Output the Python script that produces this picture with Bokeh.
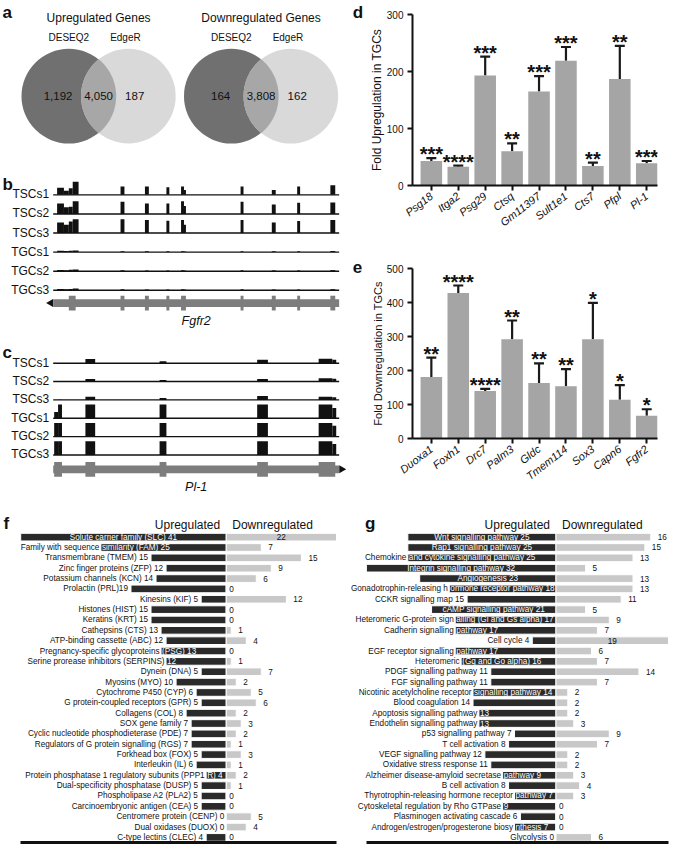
import numpy as np
from bokeh.plotting import figure
from bokeh.layouts import row, column
from bokeh.models import Range1d, FixedTicker, Whisker, TeeHead, ColumnDataSource
from bokeh.core.properties import value
from bokeh.embed import file_html
from bokeh.resources import INLINE

FONT = "Liberation Sans"

# ---------------------------------------------------------------- data
venn_titles = ["Upregulated Genes", "Downregulated Genes"]
venn_set_names = ["DESEQ2", "EdgeR"]
venn_up_counts = [1192, 4050, 187]      # DESEQ2 only, both, EdgeR only
venn_down_counts = [164, 3808, 162]

track_samples = ["TSCs1", "TSCs2", "TSCs3", "TGCs1", "TGCs2", "TGCs3"]

fgfr2_span = [0, 293]
fgfr2_exon_start = [16, 69, 94, 116, 131, 192, 224, 250, 284]
fgfr2_exon_end = [23, 73, 98, 119, 136, 195, 228, 253, 289]
fgfr2_cov_start = [4, 11, 16, 20, 69, 94, 116, 131, 134, 192, 224, 250, 284]
fgfr2_cov_end = [11, 16, 20, 26, 73, 98, 119, 134, 136, 195, 228, 253, 289]
fgfr2_cov = [
    [0.52, 0.29, 0.48, 0.95, 0.60, 0.60, 0.55, 0.60, 0.35, 0.60, 0.35, 0.60, 0.70],
    [0.76, 0.48, 0.52, 0.93, 0.88, 0.76, 0.76, 0.93, 0.57, 0.88, 0.69, 0.81, 0.83],
    [0.76, 0.60, 0.83, 1.00, 1.00, 0.95, 0.90, 0.95, 0.60, 0.95, 0.76, 0.88, 0.95],
    [0.10, 0.08, 0.10, 0.12, 0.07, 0.06, 0.06, 0.07, 0.05, 0.07, 0.06, 0.06, 0.08],
    [0.09, 0.07, 0.10, 0.12, 0.07, 0.06, 0.06, 0.07, 0.05, 0.07, 0.06, 0.06, 0.08],
    [0.10, 0.08, 0.10, 0.13, 0.07, 0.06, 0.06, 0.07, 0.05, 0.07, 0.06, 0.06, 0.08],
]

pl1_span = [0, 293]
pl1_exon_start = [1, 33, 109, 209, 272]
pl1_exon_end = [9, 43, 116, 220, 289]
pl1_cov_start = [1, 5, 33, 109, 209, 272, 286]
pl1_cov_end = [5, 9, 43, 116, 220, 286, 290]
pl1_cov = [
    [0.00, 0.02, 0.30, 0.14, 0.26, 0.33, 0.25],
    [0.00, 0.02, 0.19, 0.12, 0.19, 0.24, 0.20],
    [0.00, 0.02, 0.24, 0.14, 0.29, 0.24, 0.20],
    [0.45, 1.00, 1.00, 1.00, 1.00, 1.00, 0.75],
    [1.00, 1.00, 1.00, 1.00, 1.00, 1.00, 0.80],
    [1.00, 1.00, 1.00, 1.00, 1.00, 1.00, 0.80],
]

up_genes = ["Psg18", "Itga2", "Psg29", "Ctsq", "Gm11397", "Sult1e1", "Cts7", "Pfpl", "Pl-1"]
up_fold = [43, 33, 193, 60, 165, 219, 34, 187, 39]
up_err_hi = [48, 35, 226, 74, 192, 243, 40, 245, 43]
up_sig = ["***", "****", "***", "**", "***", "***", "**", "**", "***"]

down_genes = ["Duoxa1", "Foxh1", "Drc7", "Palm3", "Gldc", "Tmem114", "Sox3", "Capn6", "Fgfr2"]
down_fold = [181, 428, 140, 292, 163, 154, 292, 114, 67]
down_err_hi = [238, 450, 146, 347, 221, 204, 399, 157, 86]
down_sig = ["**", "****", "****", "**", "**", "**", "*", "*", "*"]

f_names = ["Solute carrier family (SLC) ", "Family with sequence similarity (FAM) ",
           "Transmembrane (TMEM) ", "Zinc finger proteins (ZFP) ", "Potassium channels (KCN) ",
           "Prolactin (PRL)", "Kinesins (KIF) ", "Histones (HIST) ", "Keratins (KRT) ",
           "Cathepsins (CTS) ", "ATP-binding cassette (ABC) ",
           "Pregnancy-specific glycoproteins (PSG) ", "Serine prorease inhibitors (SERPINS) ",
           "Dynein (DNA) ", "Myosins (MYO) ", "Cytochrome P450 (CYP) ",
           "G protein-coupled receptors (GPR) ", "Collagens (COL) ", "SOX gene family ",
           "Cyclic nucleotide phosphodieterase (PDE) ", "Regulators of G protein signalling (RGS) ",
           "Forkhead box (FOX) ", "Interleukin (IL) ",
           "Protein phosphatase 1 regulatory subunits (PPP1R) ",
           "Dual-specificity phosphatase (DUSP) ", "Phospholipase A2 (PLA2) ",
           "Carcinoembryonic antigen (CEA) ", "Centromere protein (CENP) ",
           "Dual oxidases (DUOX) ", "C-type lectins (CLEC) "]
f_up = [41, 25, 15, 12, 14, 19, 5, 15, 15, 13, 12, 13, 12, 5, 10, 6, 5, 8, 7, 7, 7, 5, 6, 4, 5, 5, 5, 0, 0, 4]
f_down = [22, 7, 15, 9, 6, 0, 12, 0, 0, 1, 4, 0, 1, 7, 2, 5, 6, 2, 3, 2, 1, 3, 1, 2, 1, 0, 0, 5, 4, 0]
f_up_inside = ["Solute carrier family (SLC) 41", "similarity (FAM) 25", "", "", "", "", "", "", "",
               "", "", "(PSG) 13", "12", "", "", "", "", "", "", "", "", "", "", "R) 4",
               "", "", "", "", "", ""]

g_names = ["Wnt signalling pathway ", "Rap1 signalling pathway ",
           "Chemokine and cytokine signalling pathway ", "Integrin signalling pathway ",
           "Angiogenesis ", "Gonadotrophin-releasing hormone receptor pathway ",
           "CCKR signalling map ", "cAMP signalling pathway ",
           "Heteromeric G-protein signalling (Gi and Gs alpha) ", "Cadherin signalling pathway ",
           "Cell cycle ", "EGF receptor signalling pathway ", "Heteromeric (Gq and Go  alpha) ",
           "PDGF signalling pathway ", "FGF signalling pathway ",
           "Nicotinic acetylcholine receptor signalling pathway ", "Blood coagulation ",
           "Apoptosis signalling pathway ", "Endothelin signalling pathway ",
           "p53 signalling pathway ", "T cell activation ", "VEGF signalling pathway ",
           "Oxidative stress response ", "Alzheimer disease-amyloid secretase pathway ",
           "B cell activation ", "Thyrotrophin-releasing hormone receptor pathway ",
           "Cytoskeletal regulation by Rho GTPase ", "Plasminogen activating cascade ",
           "Androgen/estrogen/progesterone biosynthesis ", "Glycolysis "]
g_up = [25, 25, 25, 32, 23, 18, 15, 21, 17, 17, 4, 17, 16, 11, 11, 14, 14, 13, 13, 7, 8, 12, 11, 9, 8, 7, 9, 6, 7, 0]
g_down = [16, 15, 13, 5, 13, 13, 11, 5, 9, 7, 19, 6, 7, 14, 7, 2, 2, 2, 3, 9, 7, 2, 2, 3, 4, 3, 0, 0, 0, 6]
g_up_inside = ["Wnt signalling pathway 25", "Rap1 signalling pathway 25",
               "and cytokine signalling pathway 25", "Integrin signalling pathway 32",
               "Angiogenesis 23", "ormone receptor pathway 18", "", "cAMP signalling pathway 21",
               "alling (Gi and Gs alpha) 17", "pathway 17", "", "pathway 17",
               "(Gq and Go  alpha) 16", "", "", "signalling pathway 14", "", "13", "13",
               "", "", "", "", "pathway 9", "", "pathway 7", "9", "", "nthesis 7", ""]

# ---------------------------------------------------------------- layout helpers
W, H = 669, 845
SX, SY = W / 685.0, H / 861.0
SPLIT = 374.0   # reference-pixel x where the left column ends


def X(v):
    return int(round(v * SX))


def Y(v):
    return int(round(v * SY))


def base_fig(box, xr, yr, frame=None, xaxis=None, yaxis=None):
    x0, y0, x1, y1 = box
    p = figure(width=X(x1) - X(x0), height=Y(y1) - Y(y0), x_range=xr, y_range=yr,
               output_backend="svg", toolbar_location=None,
               x_axis_location=xaxis, y_axis_location=yaxis, min_border=0)
    if frame is not None:
        fx0, fy0, fx1, fy1 = frame
        p.min_border_left = X(fx0) - X(x0)
        p.min_border_right = X(x1) - X(fx1)
        p.min_border_top = Y(fy0) - Y(y0)
        p.min_border_bottom = Y(y1) - Y(fy1)
    p.outline_line_color = None
    p.grid.visible = False
    p.background_fill_color = "white"
    p.border_fill_color = "white"
    return p


INK = "#111111"


def txt(p, x, y, text, size, align="center", baseline="middle", color=INK,
        style="normal", xo=0, yo=0):
    p.text(x=list(x), y=list(y), text=list(text), text_font=value(FONT),
           text_font_size=size, text_align=align, text_baseline=baseline,
           text_color=color, text_font_style=style, x_offset=xo, y_offset=yo)


def letter(p, x, y, t):
    txt(p, [x], [y], [t], "17px", align="left", baseline="alphabetic", style="bold")


# ---------------------------------------------------------------- panel a (Venn)
pa = base_fig((0, 0, SPLIT, 158), Range1d(0, SPLIT), Range1d(158, 0))
R, SEP, CY = 48.5, 61.0, 97.5
venn_mid = [100.5, 267.0]
for k, counts in enumerate([venn_up_counts, venn_down_counts]):
    cx = venn_mid[k]
    ca, cb = cx - SEP / 2, cx + SEP / 2
    pa.circle(x=[ca], y=[CY], radius=R, fill_color="#707070", line_color=None)
    pa.circle(x=[cb], y=[CY], radius=R, fill_color="#d9d9d9", line_color=None)
    al = np.arccos(SEP / 2 / R)
    t1 = np.linspace(-al, al, 80)
    t2 = np.linspace(np.pi - al, np.pi + al, 80)
    lx = np.concatenate([ca + R * np.cos(t1), cb + R * np.cos(t2)])
    ly = np.concatenate([CY + R * np.sin(t1), CY + R * np.sin(t2)])
    pa.patch(lx, ly, fill_color="#a7a7a7", line_color=None)
    txt(pa, [cx], [18], [venn_titles[k]], "12px")
    txt(pa, [ca, cb - 3], [38, 38], venn_set_names, "10px")
    txt(pa, [ca - 11, cx, cb + 6.5], [CY, CY, CY], [f"{c:,}" for c in counts], "11.5px")
letter(pa, 2, 12, "a")
letter(pa, 361, 12, "d")


# ---------------------------------------------------------------- panels b, c (tracks)
def track_panel(box, span, ex_s, ex_e, cov_s, cov_e, cov, base0, step, gene_y, name_y,
                name, arrow_left):
    p = base_fig(box, Range1d(-54, box[2] - 54), Range1d(box[3], box[1]))
    baselines = [base0 + r * step for r in range(len(track_samples))]
    for r, yb in enumerate(baselines):
        p.quad(left=cov_s, right=cov_e, bottom=[yb] * len(cov_s),
               top=[yb - h * 14 for h in cov[r]], fill_color=INK, line_color=None)
    p.segment(x0=[span[0]] * 6, x1=[span[1]] * 6, y0=baselines, y1=baselines,
              line_color=INK, line_width=1.4)
    txt(p, [span[0]] * 6, baselines, track_samples, "12px", align="right",
        baseline="alphabetic", xo=-4, yo=-0.5)
    p.hbar(y=[gene_y], left=[span[0]], right=[span[1]], height=8, fill_color="#7d7d7d",
           line_color=None)
    p.hbar(y=[gene_y] * len(ex_s), left=ex_s, right=ex_e, height=15, fill_color="#7d7d7d",
           line_color=None)
    ax = span[0] - 2.5 if arrow_left else span[1] + 2.5
    p.scatter(x=[ax], y=[gene_y], marker="triangle", size=8,
              angle=(np.pi / 2 if arrow_left else -np.pi / 2), fill_color=INK, line_color=None)
    txt(p, [(span[0] + span[1]) / 2], [name_y], [name], "12.5px", style="italic")
    return p


pb = track_panel((0, 158, SPLIT, 345), fgfr2_span, fgfr2_exon_start, fgfr2_exon_end,
                 fgfr2_cov_start, fgfr2_cov_end, fgfr2_cov, 198.0, 19.4, 308.0, 326.0,
                 "Fgfr2", True)
letter(pb, -52, 187.5, "b")
letter(pb, 361 - 54, 271, "e")
pc = track_panel((0, 345, SPLIT, 512), pl1_span, pl1_exon_start, pl1_exon_end,
                 pl1_cov_start, pl1_cov_end, pl1_cov, 369.3, 18.8, 478.0, 496.0,
                 "Pl-1", False)
letter(pc, -52, 358.0, "c")


# ---------------------------------------------------------------- panels d, e (bar charts)
def bar_panel(box, frame, genes, vals, his, sigs, ymax, ylabel, ylabel_size):
    p = base_fig(box, Range1d(-0.7, 8.4), Range1d(0, ymax), frame=frame,
                 xaxis="below", yaxis="left")
    src = ColumnDataSource(dict(x=list(range(len(genes))), top=vals, hi=his, sig=sigs))
    p.vbar(x="x", top="top", width=0.8, source=src, fill_color="#a5a5a5", line_color=None)
    p.add_layout(Whisker(base="x", upper="hi", lower="top", source=src, line_width=2.2,
                         line_color="#1a1a1a",
                         upper_head=TeeHead(size=10, line_width=2.2, line_color="#1a1a1a"),
                         lower_head=None))
    p.text(x="x", y="hi", text="sig", source=src, text_align="center",
           text_baseline="alphabetic", y_offset=-4, text_font=value(FONT),
           text_font_size="20px", text_font_style="bold", text_color=INK)
    p.yaxis.ticker = FixedTicker(ticks=list(range(0, ymax + 1, 100)))
    p.xaxis.ticker = FixedTicker(ticks=list(range(len(genes))))
    p.xaxis.major_label_overrides = {i: g for i, g in enumerate(genes)}
    p.xaxis.major_label_orientation = 0.66
    p.xaxis.major_label_text_font_style = "italic"
    p.xaxis.major_label_text_font_size = "11px"
    p.yaxis.major_label_text_font_size = "10px"
    p.yaxis.axis_label = ylabel
    p.yaxis.axis_label_text_font_size = ylabel_size
    p.yaxis.axis_label_text_font_style = "normal"
    p.yaxis.axis_label_standoff = 0
    for ax in (p.xaxis, p.yaxis):
        ax.major_label_text_font = FONT
        ax.axis_label_text_font = FONT
        ax.major_label_text_color = INK
        ax.axis_label_text_color = INK
        ax.axis_line_width = 2
        ax.axis_line_color = INK
        ax.major_tick_line_width = 2
        ax.major_tick_line_color = INK
        ax.major_tick_out = 5
        ax.major_tick_in = 0
        ax.minor_tick_line_color = None
        ax.major_label_standoff = 4
    return p


pd_ = bar_panel((SPLIT, 0, 685, 250), (422, 14, 673, 189), up_genes, up_fold, up_err_hi,
                up_sig, 300, "Fold Upregulation in TGCs", "12px")
pe = bar_panel((SPLIT, 250, 685, 512), (422, 273.3, 673, 446.7), down_genes, down_fold,
               down_err_hi, down_sig, 500, "Fold Downregulation in TGCs", "11px")


# ---------------------------------------------------------------- panels f, g (category bars)
def cat_panel(box, names, up, down, inside, divider, ppu, let, let_x):
    x0, y0, x1, y1 = box
    row0, step = 547.3, 10.55
    fb = y0 + (Y(y1) - Y(y0) - 3) / SY
    xr = Range1d((x0 - divider) / ppu, (x1 - divider) / ppu)
    yr = Range1d((fb - row0) / step, (y0 - row0) / step)
    p = base_fig(box, xr, yr, xaxis="below", yaxis=None)
    p.min_border_bottom = 3
    idx = list(range(len(names)))
    p.hbar(y=idx, left=[-v for v in up], right=[0] * len(up), height=0.74,
           fill_color="#2a2a2a", line_color="white", line_width=1)
    p.hbar(y=idx, left=[0] * len(down), right=down, height=0.74,
           fill_color="#c8c8c8", line_color="white", line_width=1)
    FS = "8.2px"
    dmax = max(down)
    for i in idx:
        v = up[i]
        lab = names[i] + str(v)
        inn = inside[i]
        if v == 0:
            txt(p, [0], [i], [lab], FS, align="right", xo=-2)
        elif inn == lab:
            txt(p, [-v / 2], [i], [lab], FS, color="white")
        elif inn:
            outer = lab[: len(lab) - len(inn)].rstrip()
            txt(p, [-v], [i], [outer], FS, align="right", xo=-1.5)
            txt(p, [-v], [i], [inn], FS, align="left", color="white", xo=1)
        else:
            txt(p, [-v], [i], [lab], FS, align="right", xo=-3)
        d = down[i]
        if d == dmax:
            txt(p, [d / 2], [i], [str(d)], FS)
        else:
            txt(p, [d], [i], [str(d)], FS, align="left", xo=(7 if d > 0 else 3))
    txt(p, [0], [-1.17], ["Upregulated"], "12px", align="right", xo=-6)
    txt(p, [0], [-1.17], ["Downregulated"], "12px", align="left", xo=6)
    txt(p, [(let_x - divider) / ppu], [(533 - row0) / step], [let], "17px", align="left",
        baseline="alphabetic", style="bold")
    ax = p.xaxis[0]
    ax.ticker = FixedTicker(ticks=[])
    ax.bounds = (-max(up), max(down))
    ax.axis_line_width = 3
    ax.axis_line_color = INK
    ax.major_tick_line_color = None
    ax.minor_tick_line_color = None
    ax.major_label_standoff = 0
    ax.major_label_text_font_size = "0px"
    return p


pf = cat_panel((0, 512, 350, 861), f_names, f_up, f_down, f_up_inside, 231.0, 5.13, "f", 3)
pg = cat_panel((350, 512, 685, 861), g_names, g_up, g_down, g_up_inside, 568.7, 6.07, "g", 373)

layout = column(row(column(pa, pb, pc), column(pd_, pe)), row(pf, pg))
open("out.html", "w").write(file_html(layout, INLINE))
